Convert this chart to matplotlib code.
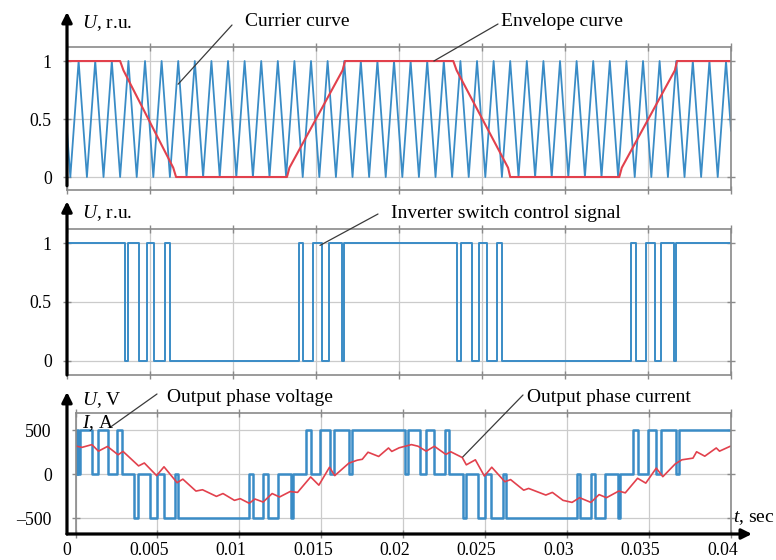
import matplotlib
matplotlib.use("Agg")
import matplotlib.pyplot as plt
from matplotlib.transforms import ScaledTranslation

plt.rcParams['font.family'] = ['Liberation Serif', 'DejaVu Serif']
plt.rcParams['mathtext.fontset'] = 'custom'
plt.rcParams['mathtext.rm'] = 'Liberation Serif'
plt.rcParams['mathtext.it'] = 'Liberation Serif:italic'

# ── data (times in ms) ───────────────────────────────────────────────────
x_ticks_s = [0, 0.005, 0.01, 0.015, 0.02, 0.025, 0.03, 0.035, 0.04]
x_tick_labels = ['0', '0.005', '0.01', '0.015', '0.02', '0.025', '0.03', '0.035', '0.04']

carrier_peaks = [0.7, 1.7, 2.7, 3.7, 4.7, 5.7, 6.7, 7.7, 8.7, 9.7,
                 10.7, 11.7, 12.7, 13.7, 14.7, 15.7, 16.7, 17.7, 18.7, 19.7,
                 20.7, 21.7, 22.7, 23.7, 24.7, 25.7, 26.7, 27.7, 28.7, 29.7,
                 30.7, 31.7, 32.7, 33.7, 34.7, 35.7, 36.7, 37.7, 38.7, 39.7]
carrier_troughs = [0.2, 1.2, 2.2, 3.2, 4.2, 5.2, 6.2, 7.2, 8.2, 9.2,
                   10.2, 11.2, 12.2, 13.2, 14.2, 15.2, 16.2, 17.2, 18.2, 19.2,
                   20.2, 21.2, 22.2, 23.2, 24.2, 25.2, 26.2, 27.2, 28.2, 29.2,
                   30.2, 31.2, 32.2, 33.2, 34.2, 35.2, 36.2, 37.2, 38.2, 39.2]
carrier_start, carrier_end = 0.4, 0.4

env_t = [0, 3.20, 3.40, 6.40, 6.57, 13.25, 13.40, 16.60, 16.75,
         23.27, 23.47, 26.57, 26.70, 33.27, 33.42, 36.62, 36.75, 40]
env_v = [1, 1, 0.92, 0.08, 0, 0, 0.08, 0.92, 1,
         1, 0.92, 0.08, 0, 0, 0.08, 0.92, 1, 1]

sw_t = [0, 3.49, 3.69, 4.35, 4.80, 5.23, 5.92, 6.20,
        13.95, 14.22, 14.82, 15.38, 15.77, 16.54, 16.67,
        23.50, 23.71, 24.40, 24.83, 25.30, 25.93, 26.22,
        33.95, 34.25, 34.86, 35.42, 35.76, 36.56, 36.67, 40]
sw_v = [1, 0, 1, 0, 1, 0, 1, 0,
        1, 0, 1, 0, 1, 0, 1,
        0, 1, 0, 1, 0, 1, 0,
        1, 0, 1, 0, 1, 0, 1, 1]

volt_t = [0.00, 0.10, 0.16, 0.30, 1.00, 1.40, 1.97, 2.56, 2.81,
          3.60, 3.80, 4.55, 4.96, 5.37, 6.07, 6.28,
          10.60, 10.83, 11.46, 11.72, 12.35, 13.15, 13.27,
          14.05, 14.36, 14.95, 15.50, 15.80, 16.70, 16.85,
          20.12, 20.30, 21.00, 21.41, 21.86, 22.56, 22.78,
          23.65, 23.80, 24.56, 24.97, 25.38, 26.08, 26.28,
          30.58, 30.80, 31.46, 31.70, 32.33, 33.12, 33.24,
          34.02, 34.33, 34.93, 35.45, 35.75, 36.66, 36.80, 40.00]
volt_v = [0, 500, 0, 500, 0, 500, 0, 500, 0,
          -500, 0, -500, 0, -500, 0, -500,
          0, -500, 0, -500, 0, -500, 0,
          500, 0, 500, 0, 500, 0, 500,
          0, 500, 0, 500, 0, 500, 0,
          -500, 0, -500, 0, -500, 0, -500,
          0, -500, 0, -500, 0, -500, 0,
          500, 0, 500, 0, 500, 0, 500, 500]

cur_t = [0.0, 0.4, 1.0, 1.4, 1.95, 2.6, 2.9, 3.85, 4.2, 4.95,
         5.4, 6.2, 6.55, 7.35, 7.75, 8.6, 9.0, 9.7, 10.05, 10.6,
         10.95, 11.45, 12.0, 12.45, 13.1, 13.55, 14.35, 14.85, 15.5, 15.82,
         16.68, 17.2, 17.5, 17.85, 18.5, 19.1, 19.3, 19.75, 20.5, 20.9,
         21.4, 21.9, 22.6, 22.9, 23.6, 23.85, 24.4, 24.95, 25.4, 26.2,
         26.55, 27.35, 27.65, 28.7, 29.1, 29.75, 30.3, 30.76, 31.45, 31.95,
         32.4, 33.15, 33.55, 34.3, 34.8, 35.44, 35.84, 36.6, 37.0, 37.68,
         37.9, 38.4, 39.1, 39.3, 39.95]
cur_a = [320, 305, 336, 262, 315, 221, 259, 95, 128, -15,
         85, -95, -55, -190, -175, -250, -218, -295, -276, -328,
         -280, -314, -218, -257, -195, -205, -30, -123, 80, -15,
         126, 160, 170, 250, 202, 298, 259, 300, 336, 318,
         262, 317, 225, 255, 190, 107, 164, -20, 80, -84,
         -60, -180, -160, -235, -205, -295, -318, -265, -318, -230,
         -265, -190, -210, -45, -100, 70, -27, 118, 164, 183,
         255, 205, 298, 262, 317]

# ── style ────────────────────────────────────────────────────────────────
BLUE = '#3a8cc6'
RED = '#e2414d'
FRAME = '#8a8a8a'
GRID = '#cbcbcb'
W, H = 776, 560
TXT = 14

fig = plt.figure(figsize=(W / 100, H / 100), dpi=100)


def add_axes(left, top, right, bottom):
    return fig.add_axes([left / W, 1 - bottom / H,
                         (right - left) / W, (bottom - top) / H])


def ms(values):
    return [v * 1e-3 for v in values]


def style(ax, yticks, ylabels, ylim):
    ax.set_xlim(0, 0.04)
    ax.set_ylim(*ylim)
    ax.set_xticks(x_ticks_s)
    ax.set_yticks(yticks)
    ax.set_yticklabels(ylabels)
    ax.grid(True, color=GRID, lw=0.9)
    ax.set_axisbelow(True)
    for s in ax.spines.values():
        s.set_color(FRAME)
        s.set_linewidth(1.2)
    ax.tick_params(direction='inout', length=6, color=FRAME, width=1,
                   top=True, right=True, labelsize=12.8, pad=8)
    ax.tick_params(axis='x', labelbottom=False, pad=3)


def axis_arrow(ax, start, end):
    ax.annotate('', xy=end, xytext=start, xycoords='axes fraction',
                textcoords='axes fraction', annotation_clip=False,
                arrowprops=dict(arrowstyle='-|>,head_length=0.6,head_width=0.3',
                                mutation_scale=10, lw=2.3, color='black',
                                shrinkA=0, shrinkB=0))


def callout(ax, text, text_px, line_px, target):
    fig.text(text_px[0] / W, 1 - text_px[1] / H, text,
             ha='left', va='center', fontsize=TXT)
    ax.annotate('', xy=target, xycoords='data',
                xytext=(line_px[0], H - line_px[1]), textcoords='figure pixels',
                annotation_clip=False,
                arrowprops=dict(arrowstyle='-', color='#3a3a3a', lw=0.9,
                                shrinkA=0, shrinkB=0))


ax1 = add_axes(67, 47, 731, 190)
ax2 = add_axes(67, 229, 731, 375)
ax3 = add_axes(75.5, 413, 731, 534)

# ── top: carrier and envelope ───────────────────────────────────────────
car_t = [0.0]
car_v = [carrier_start]
for tr, pk in zip(carrier_troughs, carrier_peaks):
    car_t += [tr, pk]
    car_v += [0, 1]
car_t.append(40.0)
car_v.append(carrier_end)

style(ax1, [0, 0.5, 1], ['0', '0.5', '1'], (-0.112, 1.121))
ax1.plot(ms(car_t), car_v, color=BLUE, lw=1.3)
ax1.plot(ms(env_t), env_v, color=RED, lw=1.5)
axis_arrow(ax1, (0, 0.03), (0, 1.245))
fig.text(82 / W, 1 - 23 / H, r'$\mathit{U}$, r.u.', fontsize=TXT, va='center')
callout(ax1, 'Currier curve', (245, 22), (232, 25), (0.00669, 0.80))
callout(ax1, 'Envelope curve', (501, 22), (498, 24), (0.0221, 1.0))

# ── middle: switch control signal ───────────────────────────────────────
style(ax2, [0, 0.5, 1], ['0', '0.5', '1'], (-0.119, 1.119))
ax2.step(ms(sw_t), sw_v, where='post', color=BLUE, lw=1.4)
axis_arrow(ax2, (0, 0), (0, 1.19))
fig.text(82 / W, 1 - 213 / H, r'$\mathit{U}$, r.u.', fontsize=TXT, va='center')
callout(ax2, 'Inverter switch control signal', (391, 213), (378, 214),
        (0.01524, 0.98))

# ── bottom: phase voltage and current ───────────────────────────────────
style(ax3, [-500, 0, 500], ['\u2013500', '0', '500'], (-676, 694))
ax3.tick_params(axis='x', labelbottom=True)
ax3.set_xticklabels(x_tick_labels)
shift = ScaledTranslation(-8.5 / 100, 0, fig.dpi_scale_trans)
for lab in ax3.get_xticklabels() + ax3.get_yticklabels():
    lab.set_transform(lab.get_transform() + shift)
ax3.step(ms(volt_t), volt_v, where='post', color=BLUE, lw=1.8)
ax3.plot(ms(cur_t), cur_a, color=RED, lw=1.2)
axis_arrow(ax3, (-0.013, 0), (-0.013, 1.174))
axis_arrow(ax3, (-0.013, 0), (1.032, 0))
fig.text(82 / W, 1 - 400 / H, r'$\mathit{U}$, V', fontsize=TXT, va='center')
fig.text(82 / W, 1 - 423 / H, r'$\mathit{I}$, A', fontsize=TXT, va='center')
fig.text(733 / W, 1 - 518 / H, r'$\mathit{t}$, sec', fontsize=TXT, va='center')
callout(ax3, 'Output phase voltage', (167, 397), (157, 394), (0.0021, 530))
callout(ax3, 'Output phase current', (527, 397), (523, 395), (0.02363, 196))

fig.savefig('out.png', dpi=100)
